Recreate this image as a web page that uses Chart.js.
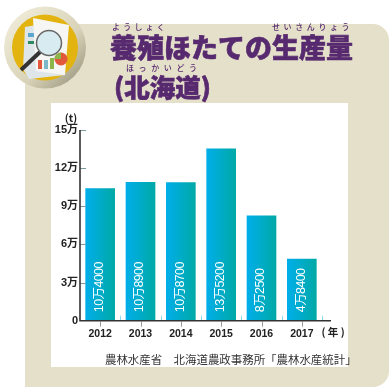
<!DOCTYPE html>
<html lang="ja">
<head>
<meta charset="utf-8">
<style>
  html, body { margin: 0; padding: 0; background: #fff; }
  #page { position: relative; width: 392px; height: 392px; overflow: hidden; font-family: "Noto Sans CJK JP", sans-serif; }
  #panel { position: absolute; left: 25px; top: 24px; width: 364px; height: 363px; background: #e5e0ca; border-radius: 0 16px 16px 0; }
  #sheet { position: absolute; left: 51px; top: 103px; width: 297px; height: 264px; background: #fff; }
  canvas { position: absolute; left: 0; top: 0; }
  .title { position: absolute; color: #57296f; font-weight: 900; white-space: nowrap; -webkit-text-stroke: 0.6px #57296f; line-height: 1; }
  .ruby { position: absolute; color: #57296f; font-size: 8px; font-weight: 500; white-space: nowrap; line-height: 1; }
  #source { position: absolute; left: 105px; top: 354px; font-size: 11.45px; color: #333; white-space: nowrap; line-height: 1; }
  #icon { position: absolute; left: 3px; top: 5px; }
</style>
</head>
<body>
<div id="page">
  <div id="panel"></div>
  <div id="sheet"></div>
  <svg id="icon" width="86" height="86" viewBox="0 0 86 86">
    <defs>
      <linearGradient id="ring" x1="0" y1="0" x2="1" y2="1">
        <stop offset="0" stop-color="#f4f0de"/><stop offset="0.6" stop-color="#d8d3b8"/><stop offset="1" stop-color="#8f8b74"/>
      </linearGradient>
    </defs>
    <circle cx="42" cy="42.5" r="41" fill="url(#ring)"/>
    <circle cx="42" cy="42.5" r="33" fill="#e3b30f"/>
    <path d="M22 22 L34 20 L62 70 L26 74 L20 64 Z" fill="#dfe6ea"/>
    <rect x="25" y="28" width="6" height="4" fill="#5aa6d0"/>
    <rect x="25" y="36" width="6" height="3" fill="#2f8a62"/>
    <path d="M30 13 L66 20 L62 70 L33 66 Z" fill="#f6f6f4"/>
    <rect x="35" y="55" width="4" height="9" fill="#e2583a"/>
    <rect x="41" y="55" width="4" height="9" fill="#7db8c9"/>
    <rect x="47" y="53" width="4" height="11" fill="#8cb54a"/>
    <circle cx="58" cy="54" r="6.5" fill="#e2583a"/>
    <path d="M58 54 L58 47.5 A6.5 6.5 0 0 0 51.5 54 Z" fill="#8cb54a"/>
    <line x1="18" y1="65" x2="37" y2="47" stroke="#333" stroke-width="4"/>
    <circle cx="46" cy="38" r="12.5" fill="#d5e9f0" fill-opacity="0.92" stroke="#666" stroke-width="1.5"/>
  </svg>
  <canvas id="chart" width="392" height="392"></canvas>
  <div class="ruby" style="left:112px;top:23px;letter-spacing:3.2px">ようしょく</div>
  <div class="ruby" style="left:272px;top:23px;letter-spacing:3.6px">せいさんりょう</div>
  <div class="ruby" style="left:126px;top:64px;letter-spacing:4.6px">ほっかいどう</div>
  <div class="title" style="left:110px;top:33px;font-size:27px">養殖ほたての生産量</div>
  <div class="title" style="left:114px;top:73px;font-size:25.5px">(北海道)</div>
  <div id="source">農林水産省　北海道農政事務所「農林水産統計」</div>
</div>
<script src="https://cdn.jsdelivr.net/npm/chart.js@4"></script>
<script>
const years = ['2012', '2013', '2014', '2015', '2016', '2017'];
const harvest = [104000, 108900, 108700, 135200, 82500, 48400];
const barLabels = ['10万4000', '10万8900', '10万8700', '13万5200', '8万2500', '4万8400'];
const yTickLabels = ['0', '3万', '6万', '9万', '12万', '15万'];

const BAR_W = 29;
const TEXT = '#222';
const FONT = '"Liberation Sans", "Noto Sans CJK JP", sans-serif';

// 棒ごとの横グラデーション
function barFill(c) {
  const x = c.chart.scales.x;
  const mid = x ? x.getPixelForValue(c.dataIndex) : NaN;
  if (!Number.isFinite(mid)) return '#00aee6';
  const g = c.chart.ctx.createLinearGradient(mid - BAR_W / 2, 0, mid + BAR_W / 2, 0);
  g.addColorStop(0, '#00aeea');
  g.addColorStop(1, '#00a9a6');
  return g;
}

// 軸線の延長、目盛り、棒の中の数字など
const decorations = {
  id: 'decorations',
  afterDatasetsDraw(chart) {
    const { ctx, scales: { x, y }, chartArea: a } = chart;
    const base = y.getPixelForValue(0);
    const band = x.getPixelForValue(1) - x.getPixelForValue(0);
    ctx.save();

    // 棒のあいだの水色の短い目盛り
    ctx.strokeStyle = '#8fdcf2';
    ctx.lineWidth = 1;
    years.forEach((_, i) => {
      const px = Math.round(x.getPixelForValue(i) + band / 2) + 0.5;
      ctx.beginPath();
      ctx.moveTo(px, base - 5);
      ctx.lineTo(px, base);
      ctx.stroke();
    });

    // x軸の下の灰色の目盛り
    ctx.strokeStyle = '#999';
    years.forEach((_, i) => {
      const px = Math.round(x.getPixelForValue(i)) + 0.5;
      ctx.beginPath();
      ctx.moveTo(px, base + 1);
      ctx.lineTo(px, base + 6);
      ctx.stroke();
    });

    // y軸の内側の目盛り
    ctx.strokeStyle = '#7d9aa0';
    y.ticks.forEach(t => {
      const py = Math.round(y.getPixelForValue(t.value)) + 0.5;
      if (t.value === 0) return;
      ctx.beginPath();
      ctx.moveTo(a.left, py);
      ctx.lineTo(a.left + 6, py);
      ctx.stroke();
    });

    // 軸線
    ctx.strokeStyle = '#333';
    ctx.lineWidth = 1.6;
    ctx.beginPath();
    ctx.moveTo(a.left, y.getPixelForValue(150000));
    ctx.lineTo(a.left, base);
    ctx.lineTo(a.right + 9, base);
    ctx.stroke();

    // 棒の中の縦書き数字
    ctx.fillStyle = '#fff';
    ctx.font = '12.5px ' + FONT;
    ctx.letterSpacing = '-0.6px';
    ctx.textAlign = 'left';
    ctx.textBaseline = 'middle';
    barLabels.forEach((s, i) => {
      ctx.save();
      ctx.translate(x.getPixelForValue(i) - 0.5, base - 8.5);
      ctx.rotate(-Math.PI / 2);
      ctx.fillText(s, 0, 0);
      ctx.restore();
    });
    ctx.letterSpacing = '0px';

    // 単位
    ctx.fillStyle = TEXT;
    ctx.font = 'bold 10.5px "Noto Sans CJK JP", sans-serif';
    ctx.textAlign = 'center';
    ctx.fillText('(t)', 71, 118);
    ctx.font = 'bold 10.5px "Noto Sans CJK JP", sans-serif';
    ctx.fillText('( 年 )', 333, 332);
    ctx.restore();
  }
};

new Chart(document.getElementById('chart'), {
  type: 'bar',
  data: {
    labels: years,
    datasets: [{
      data: harvest,
      backgroundColor: barFill,
      barThickness: BAR_W,
      borderWidth: 0
    }]
  },
  options: {
    responsive: false,
    animation: false,
    layout: { padding: { top: 130, right: 70, left: 0, bottom: 0 } },
    plugins: { legend: { display: false }, tooltip: { enabled: false } },
    scales: {
      x: {
        afterFit(s) { s.height = 71.3; },
        grid: { display: false, drawTicks: false },
        border: { display: false },
        ticks: {
          color: TEXT,
          padding: 7,
          maxRotation: 0,
          font: { family: FONT, size: 10.5, weight: 'bold' }
        }
      },
      y: {
        min: 0,
        max: 150000,
        afterFit(s) { s.width = 80; },
        grid: { display: false, drawTicks: false },
        border: { display: false },
        ticks: {
          stepSize: 30000,
          color: TEXT,
          padding: 2,
          font: { family: FONT, size: 11, weight: 'bold' },
          callback: (v, i) => yTickLabels[i]
        }
      }
    }
  },
  plugins: [decorations]
});
</script>
</body>
</html>
